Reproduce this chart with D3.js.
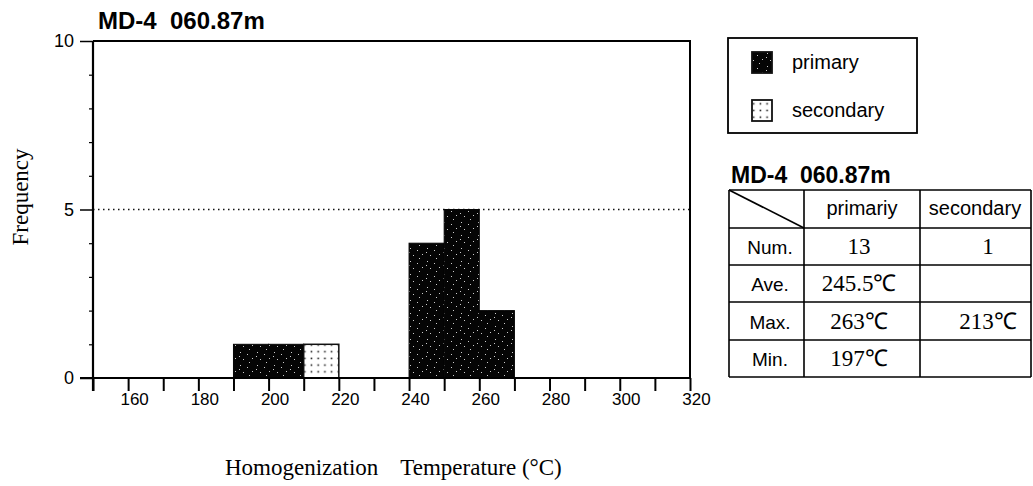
<!DOCTYPE html>
<html><head><meta charset="utf-8">
<script src="https://cdn.jsdelivr.net/npm/d3@7"></script>
<style>
html,body{margin:0;padding:0;background:#fff;}
svg{display:block;}
.sans{font-family:"Liberation Sans",Arial,sans-serif;}
.serif{font-family:"Liberation Serif","Times New Roman",serif;}
</style></head>
<body>
<script>
// ---- data ----
const binWidth = 10;
const primaryBins = [190, 200, 240, 250, 260];
const primaryCounts = [1, 1, 4, 5, 2];
const secondaryBins = [210];
const secondaryCounts = [1];
const xTicks = [150,160,170,180,190,200,210,220,230,240,250,260,270,280,290,300,310,320];
const xLabels = [160,180,200,220,240,260,280,300,320];
const yMajor = [0,5,10];
const yMinor = [1,2,3,4,6,7,8,9];
const sampleTitle = "MD-4\u00a0\u00a0060.87m";
const legendItems = ["primary","secondary"];
const tableCols = ["primariy","secondary"];
const tableRows = ["Num.","Ave.","Max.","Min."];
const primaryStats = ["13","245.5℃","263℃","197℃"];
const secondaryStats = ["1","","213℃",""];

const W = 1033, H = 486;
const svg = d3.select("body").append("svg").attr("width", W).attr("height", H);
const defs = svg.append("defs");

// speckled black pattern
const sp = defs.append("pattern").attr("id","speck").attr("patternUnits","userSpaceOnUse")
  .attr("width",17).attr("height",13);
sp.append("rect").attr("width",17).attr("height",13).attr("fill","#050505");
[[2,1],[9,3],[14,7],[5,8],[11,11],[1,5]].forEach(p=>{
  sp.append("rect").attr("x",p[0]).attr("y",p[1]).attr("width",1).attr("height",1).attr("fill","#ccc");
});
// dotted pattern
const dp = defs.append("pattern").attr("id","dots").attr("patternUnits","userSpaceOnUse")
  .attr("width",6.7).attr("height",6.7);
dp.append("rect").attr("width",6.7).attr("height",6.7).attr("fill","#fff");
dp.append("rect").attr("x",2.5).attr("y",2.5).attr("width",1.6).attr("height",1.6).attr("fill","#222");

const x = d3.scaleLinear().domain([150,320]).range([93,690]);
const y = d3.scaleLinear().domain([0,10]).range([378,41]);

// title
svg.append("text").attr("class","sans").attr("x",98).attr("y",29)
  .attr("font-size",24).attr("font-weight","bold").text(sampleTitle);

// dotted line at 5
svg.append("line").attr("x1",x(150)).attr("x2",x(320)).attr("y1",y(5)).attr("y2",y(5))
  .attr("stroke","#111").attr("stroke-width",1.5).attr("stroke-dasharray","1.5,3.5");

// bars
const g = svg.append("g");
g.selectAll("rect.p").data(primaryBins.map((b,i)=>({b,c:primaryCounts[i]}))).join("rect")
  .attr("class","p").attr("x",d=>x(d.b)).attr("width",d=>x(d.b+binWidth)-x(d.b))
  .attr("y",d=>y(d.c)).attr("height",d=>y(0)-y(d.c))
  .attr("fill","url(#speck)").attr("stroke","#050505").attr("stroke-width",1);
g.selectAll("rect.s").data(secondaryBins.map((b,i)=>({b,c:secondaryCounts[i]}))).join("rect")
  .attr("class","s").attr("x",d=>x(d.b)).attr("width",d=>x(d.b+binWidth)-x(d.b))
  .attr("y",d=>y(d.c)).attr("height",d=>y(0)-y(d.c))
  .attr("fill","url(#dots)").attr("stroke","#111").attr("stroke-width",1.5);

// frame top & right
svg.append("path").attr("d",`M${x(150)},${y(10)}H${x(320)}V${y(0)}`)
  .attr("fill","none").attr("stroke","#000").attr("stroke-width",2);

// x axis
const xa = svg.append("g").attr("transform",`translate(0,${y(0)})`)
  .call(d3.axisBottom(x).tickValues(xTicks).tickSize(13).tickSizeOuter(0)
    .tickFormat(d=>xLabels.includes(d)?d:""));
xa.select(".domain").remove();
xa.selectAll(".tick line").attr("stroke","#000").attr("stroke-width",2);
xa.selectAll(".tick text").attr("class","sans").attr("font-size",17).attr("fill","#000")
  .attr("dx",6).attr("dy","0.65em");
svg.append("line").attr("x1",80).attr("x2",x(320)).attr("y1",y(0)).attr("y2",y(0))
  .attr("stroke","#000").attr("stroke-width",2);

// y axis
const ya1 = svg.append("g").attr("transform",`translate(${x(150)},0)`)
  .call(d3.axisLeft(y).tickValues(yMinor).tickSize(4).tickSizeOuter(0).tickFormat(""));
ya1.select(".domain").remove();
ya1.selectAll(".tick line").attr("stroke","#000").attr("stroke-width",1.2);
const ya2 = svg.append("g").attr("transform",`translate(${x(150)},0)`)
  .call(d3.axisLeft(y).tickValues(yMajor).tickSize(13).tickSizeOuter(0).tickPadding(6));
ya2.select(".domain").remove();
ya2.selectAll(".tick line").attr("stroke","#000").attr("stroke-width",1.5);
ya2.selectAll(".tick text").attr("class","sans").attr("font-size",18).attr("fill","#000");
svg.append("line").attr("x1",x(150)).attr("x2",x(150)).attr("y1",y(10)).attr("y2",y(0)+13)
  .attr("stroke","#000").attr("stroke-width",2.2);

// axis titles
svg.append("text").attr("class","serif").attr("font-size",23)
  .attr("transform","translate(28,197) rotate(-90)").attr("text-anchor","middle").text("Frequency");
const xt = svg.append("text").attr("class","serif").attr("font-size",23).attr("x",225).attr("y",475);
xt.append("tspan").text("Homogenization");
xt.append("tspan").attr("dx",22).text("Temperature (°C)");

// legend
svg.append("rect").attr("x",728).attr("y",38).attr("width",189).attr("height",95)
  .attr("fill","none").attr("stroke","#000").attr("stroke-width",1.8);
const legFills = ["url(#speck)","url(#dots)"];
const legY = [52,100];
legendItems.forEach((t,i)=>{
  svg.append("rect").attr("x",752).attr("y",legY[i]).attr("width",20).attr("height",21)
    .attr("fill",legFills[i]).attr("stroke","#111").attr("stroke-width",1.8);
  svg.append("text").attr("class","sans").attr("font-size",20).attr("x",792).attr("y",legY[i]+17).text(t);
});

// stats table
svg.append("text").attr("class","sans").attr("x",731).attr("y",183)
  .attr("font-size",23).attr("font-weight","bold").text(sampleTitle);
const colX = [729,804,920,1031];
const rowY = [190,228,265,302,340,377];
const tg = svg.append("g").attr("stroke","#000").attr("stroke-width",1.6);
colX.forEach(cx=>tg.append("line").attr("x1",cx).attr("x2",cx).attr("y1",rowY[0]).attr("y2",rowY[5]));
rowY.forEach(ry=>tg.append("line").attr("x1",colX[0]).attr("x2",colX[3]).attr("y1",ry).attr("y2",ry));
tg.append("line").attr("x1",colX[0]).attr("y1",rowY[0]).attr("x2",colX[1]).attr("y2",rowY[1]);
const colCenters = [862, 975];
tableCols.forEach((t,i)=>{
  svg.append("text").attr("class","sans").attr("font-size",20).attr("text-anchor","middle")
    .attr("x",colCenters[i]).attr("y",rowY[1]-13).text(t);
});
tableRows.forEach((t,i)=>{
  svg.append("text").attr("class","sans").attr("font-size",19).attr("text-anchor","middle")
    .attr("x",770).attr("y",rowY[i+2]-11).text(t);
  svg.append("text").attr("class","serif").attr("font-size",23).attr("text-anchor","middle")
    .attr("x",859).attr("y",rowY[i+2]-11).text(primaryStats[i]);
  svg.append("text").attr("class","serif").attr("font-size",23).attr("text-anchor","middle")
    .attr("x",988).attr("y",rowY[i+2]-11).text(secondaryStats[i]);
});
</script>
</body></html>
